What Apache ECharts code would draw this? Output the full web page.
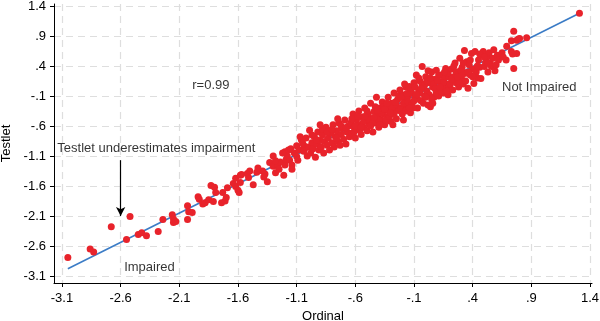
<!DOCTYPE html>
<html>
<head>
<meta charset="utf-8">
<script src="https://cdn.jsdelivr.net/npm/echarts@6/dist/echarts.min.js"></script>
<style>
  html, body { margin: 0; padding: 0; background: #fff; }
  #scatterChart { width: 600px; height: 321px; }
</style>
</head>
<body>
<div id="scatterChart"></div>
<script>
// ordinal vs testlet scores, [ordinal, testlet]
var scores = [
  [-3.05,-2.79],[-2.86,-2.65],[-2.83,-2.70],[-2.68,-2.28],[-2.52,-2.11],[-2.55,-2.49],
  [-2.45,-2.41],[-2.42,-2.38],[-2.38,-2.43],[-2.28,-2.36],[-2.24,-2.16],[-2.16,-2.08],
  [-2.15,-2.15],[-2.15,-2.21],[-2.13,-2.19],[-2.03,-1.93],[-2.03,-2.16],[-2.02,-2.03],
  [-1.99,-2.04],[-1.94,-1.78],[-1.93,-1.82],[-1.90,-1.90],[-1.88,-1.88],[-1.85,-1.83],
  [-1.81,-1.86],[-1.83,-1.59],[-1.80,-1.62],[-1.79,-1.71],[-1.73,-1.71],[-1.74,-1.88],
  [-1.71,-1.85],[-1.70,-1.79],[-1.69,-1.63],[-1.64,-1.56],[-1.62,-1.61],[-1.60,-1.67],
  [-1.58,-1.54],[-1.59,-1.71],[-1.62,-1.47],[-1.58,-1.42],[-1.57,-1.41],[-1.52,-1.39],
  [-1.50,-1.35],[-1.51,-1.46],[-1.47,-1.58],[-1.44,-1.37],[-1.43,-1.30],[-1.39,-1.35],
  [-1.37,-1.40],[-1.35,-1.53],[-1.38,-1.45],[-1.33,-1.21],[-1.30,-1.27],[-1.26,-1.25],
  [-1.24,-1.20],[-1.28,-1.38],[-1.20,-1.25],[-1.19,-1.16],[-1.18,-1.10],[-1.21,-1.42],
  [-1.20,-1.03],[-1.17,-1.00],[-1.16,-1.17],[-1.14,-1.25],[-1.10,-1.11],[-1.09,-1.17],
  [-1.07,-0.78],[-1.06,-0.83],[-1.04,-0.92],[-1.03,-0.97],[-1.30,-1.10],[-1.22,-1.05],
  [-1.15,-0.98],[-1.12,-1.05],[-1.25,-1.32],[-1.10,-0.93],[-1.08,-1.00],[-1.14,-1.32],
  [-1.28,-1.18],
  [-1.05,-0.88],[-1.04,-1.02],[-1.02,-0.80],[-1.01,-1.10],[-1.00,-0.95],[-0.99,-0.67],
  [-0.98,-1.05],[-0.97,-0.88],[-0.96,-0.98],[-0.95,-0.78],[-0.94,-1.12],[-0.93,-0.90],
  [-0.92,-0.70],[-0.91,-1.00],[-0.90,-0.84],[-0.89,-0.95],[-0.88,-0.75],[-0.87,-1.05],
  [-0.86,-0.86],[-0.85,-0.62],[-0.84,-0.92],[-0.83,-0.80],[-0.82,-1.00],[-0.81,-0.72],
  [-0.80,-0.88],[-0.79,-0.58],[-0.78,-0.95],[-0.77,-0.78],[-0.76,-0.68],[-0.75,-0.86],
  [-0.74,-0.55],[-0.73,-0.92],[-0.72,-0.74],[-0.71,-0.64],[-0.70,-0.82],[-0.69,-0.50],
  [-0.68,-0.90],[-0.67,-0.70],[-0.66,-0.60],[-0.65,-0.78],[-0.97,-0.75],[-0.93,-0.83],
  [-0.88,-0.65],[-0.84,-0.70],[-0.80,-0.66],[-0.76,-0.80],[-0.72,-0.60],[-0.68,-0.63],
  [-0.90,-0.58],[-0.75,-0.48],
  [-0.64,-0.55],[-0.63,-0.72],[-0.62,-0.40],[-0.61,-0.62],[-0.60,-0.80],[-0.59,-0.50],
  [-0.58,-0.66],[-0.57,-0.35],[-0.56,-0.58],[-0.55,-0.74],[-0.54,-0.45],[-0.53,-0.62],
  [-0.52,-0.30],[-0.51,-0.52],[-0.50,-0.68],[-0.49,-0.40],[-0.48,-0.58],[-0.47,-0.22],
  [-0.46,-0.48],[-0.45,-0.70],[-0.44,-0.36],[-0.43,-0.55],[-0.42,-0.12],[-0.41,-0.44],
  [-0.40,-0.62],[-0.39,-0.30],[-0.38,-0.50],[-0.37,-0.20],[-0.36,-0.40],[-0.35,-0.58],
  [-0.34,-0.28],[-0.33,-0.46],[-0.32,-0.12],[-0.31,-0.36],[-0.30,-0.52],[-0.29,-0.22],
  [-0.28,-0.40],[-0.27,-0.05],[-0.26,-0.30],[-0.25,-0.48],[-0.24,-0.16],[-0.23,-0.34],
  [-0.22,0.00],[-0.63,-0.48],[-0.61,-0.70],[-0.58,-0.44],[-0.56,-0.66],[-0.53,-0.52],
  [-0.50,-0.35],[-0.48,-0.50],[-0.45,-0.55],[-0.43,-0.28],[-0.40,-0.50],[-0.38,-0.38],
  [-0.36,-0.28],[-0.34,-0.50],[-0.31,-0.44],[-0.29,-0.30],[-0.27,-0.40],[-0.25,-0.24],
  [-0.23,-0.10],[-0.60,-0.60],[-0.55,-0.62],[-0.52,-0.44],[-0.47,-0.60],[-0.44,-0.46],
  [-0.41,-0.34],[-0.39,-0.58],[-0.35,-0.32],[-0.33,-0.22],[-0.30,-0.38],[-0.28,-0.58],
  [-0.26,-0.20],
  [-0.21,-0.30],[-0.20,-0.08],[-0.19,-0.50],[-0.18,-0.15],[-0.17,0.05],[-0.16,-0.28],
  [-0.15,-0.10],[-0.14,0.06],[-0.13,-0.38],[-0.12,-0.05],[-0.11,-0.20],[-0.10,0.12],
  [-0.09,-0.12],[-0.08,0.25],[-0.07,-0.30],[-0.06,-0.02],[-0.05,0.15],[-0.04,-0.18],
  [-0.03,0.39],[-0.02,0.05],[-0.01,-0.10],[0.00,0.22],[0.01,-0.02],[0.02,-0.25],
  [0.03,0.12],[0.04,-0.28],[0.05,0.30],[0.06,0.05],[0.07,-0.12],[0.08,0.18],
  [0.09,0.33],[0.10,0.00],[0.11,-0.10],[0.12,0.14],[0.13,0.25],[0.14,0.08],
  [0.15,-0.05],[0.16,0.20],[0.17,0.36],[0.18,0.10],[0.19,-0.08],[0.20,0.22],
  [-0.21,-0.12],[-0.19,-0.22],[-0.17,-0.35],[-0.15,-0.20],[-0.13,-0.02],[-0.11,-0.30],
  [-0.09,0.05],[-0.07,-0.15],[-0.05,-0.05],[-0.03,0.10],[-0.01,0.08],[0.01,0.15],
  [0.03,-0.08],[0.05,-0.15],[0.07,0.10],[0.09,-0.05],[0.11,0.25],[0.13,-0.02],
  [0.15,0.12],[0.17,0.02],[0.19,0.28],[0.20,0.06],[-0.20,-0.40],[-0.16,-0.06],
  [-0.12,-0.25],[-0.08,-0.08],[-0.04,0.02],[0.00,-0.12],[0.04,0.20],[0.08,0.02],
  [0.12,0.05],[0.16,0.30],[0.18,-0.02],[-0.18,0.10],[-0.14,-0.30],[-0.10,-0.18],
  [-0.06,0.20],[-0.02,-0.22],[0.02,0.32],[0.06,-0.22],[0.10,0.16],
  [0.21,0.10],[0.22,0.35],[0.23,0.00],[0.24,0.22],[0.25,0.45],[0.26,0.12],
  [0.27,0.30],[0.28,0.05],[0.29,0.53],[0.30,0.20],[0.31,0.38],[0.32,0.10],
  [0.33,0.66],[0.34,0.28],[0.35,0.47],[0.36,0.03],[0.37,0.42],[0.38,0.25],
  [0.39,0.61],[0.40,0.35],[0.41,0.11],[0.42,0.64],[0.43,0.30],[0.44,0.20],
  [0.45,0.50],[0.46,0.38],[0.47,0.19],[0.48,0.58],[0.49,0.64],[0.50,0.39],
  [0.51,0.46],[0.52,0.55],[0.53,0.30],[0.54,0.62],[0.55,0.45],[0.56,0.39],
  [0.57,0.53],[0.58,0.67],[0.59,0.32],[0.60,0.42],[0.61,0.58],[0.62,0.50],
  [0.22,0.18],[0.24,0.40],[0.26,0.30],[0.28,0.15],[0.30,0.33],[0.32,0.45],
  [0.34,0.15],[0.36,0.30],[0.38,0.50],[0.40,0.22],[0.44,0.40],[0.46,0.60],
  [0.50,0.55],[0.53,0.45],[0.27,0.22],[0.31,0.25],
  [0.69,0.73],[0.685,0.50],[0.73,0.82],[0.73,0.64],[0.75,0.98],[0.75,0.36],
  [0.775,0.83],[0.775,0.61],[0.79,0.85],[0.86,0.87],[0.80,0.86],[0.74,0.60],
  [0.65,0.62],[0.66,0.55],[1.31,1.28]
];

// fitted line end points
var fitX = [-3.05, 1.31];
var fitY = [-2.98, 1.28];

var xTicks = [-3.1, -2.6, -2.1, -1.6, -1.1, -0.6, -0.1, 0.4, 0.9, 1.4];
var yTicks = [-3.1, -2.6, -2.1, -1.6, -1.1, -0.6, -0.1, 0.4, 0.9, 1.4];

var noteText = ['r=0.99', 'Not Impaired', 'Impaired', 'Testlet underestimates impairment'];
var noteX = [-1.99, 0.65, -2.57, -3.14];
var noteY = [0.08, 0.05, -2.95, -0.97];

var arrowFrom = [-2.6, -1.17];
var arrowTo = [-2.6, -2.10];

var fontName = '"Liberation Sans", Arial, Helvetica, sans-serif';

function stataFmt(v) {
    var s = (Math.round(v * 10) / 10).toFixed(1);
    return s.replace(/^(-?)0\./, '$1.');
}

var myChart = echarts.init(document.getElementById('scatterChart'), null, {renderer: 'canvas'});

var notes = [];
for (var i = 0; i < noteText.length; i++) {
    notes.push({name: noteText[i], value: [noteX[i], noteY[i]]});
}

var fitData = [];
for (var j = 0; j < fitX.length; j++) {
    fitData.push([fitX[j], fitY[j]]);
}

var gridLine = {
    show: true,
    lineStyle: { color: '#dedede', width: 1.2, type: [7, 5] }
};

option = {
    animation: false,
    backgroundColor: '#fff',
    textStyle: { fontFamily: fontName },
    grid: { left: 54, right: 8, top: 4, bottom: 38, containLabel: false, outerBoundsMode: 'none' },
    xAxis: {
        type: 'value',
        min: -3.168,
        max: 1.417,
        name: 'Ordinal',
        nameLocation: 'middle',
        nameGap: 23,
        nameTextStyle: { color: '#000', fontSize: 13, fontFamily: fontName },
        axisLine: { show: true, onZero: false, lineStyle: { color: '#000', width: 1 } },
        axisTick: { show: true, length: 4, customValues: xTicks, lineStyle: { color: '#000' } },
        axisLabel: { customValues: xTicks, formatter: stataFmt, color: '#000', fontSize: 13, margin: 9, fontFamily: fontName },
        splitLine: gridLine
    },
    yAxis: {
        type: 'value',
        min: -3.217,
        max: 1.433,
        name: 'Testlet',
        nameLocation: 'middle',
        nameGap: 35,
        nameTextStyle: { color: '#000', fontSize: 13, fontFamily: fontName },
        axisLine: { show: true, onZero: false, lineStyle: { color: '#000', width: 1 } },
        axisTick: { show: true, length: 4, customValues: yTicks, lineStyle: { color: '#000' } },
        axisLabel: { customValues: yTicks, formatter: stataFmt, color: '#000', fontSize: 13, margin: 8, fontFamily: fontName },
        splitLine: gridLine
    },
    series: [
        {
            name: 'fit',
            type: 'line',
            data: fitData,
            symbol: 'none',
            lineStyle: { color: '#3b7cc6', width: 1.6 },
            z: 2
        },
        {
            name: 'scores',
            type: 'scatter',
            data: scores,
            symbolSize: 7,
            itemStyle: { color: '#e8232b', opacity: 1 },
            z: 3
        },
        {
            name: 'notes',
            type: 'scatter',
            data: notes,
            symbolSize: 0,
            silent: true,
            clip: false,
            label: {
                show: true,
                position: [0, 0],
                align: 'left',
                verticalAlign: 'middle',
                formatter: '{b}',
                color: '#000',
                fontSize: 13,
                fontFamily: fontName
            },
            markLine: {
                silent: true,
                symbol: ['none', 'arrow'],
                symbolSize: [7, 9],
                label: { show: false },
                lineStyle: { color: '#000', width: 1.2, type: 'solid' },
                data: [[{coord: arrowFrom}, {coord: arrowTo}]]
            },
            z: 4
        }
    ]
};

myChart.setOption(option);
</script>
</body>
</html>
